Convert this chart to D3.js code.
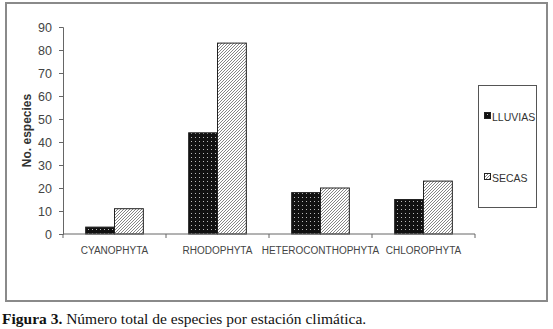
<!DOCTYPE html>
<html>
<head>
<meta charset="utf-8">
<script src="https://cdn.jsdelivr.net/npm/d3@7"></script>
<style>
  body { margin: 0; background: #fff; }
  svg { display: block; }
</style>
</head>
<body>
<div id="chart"></div>
<script>
// Data.
const categories = ["CYANOPHYTA", "RHODOPHYTA", "HETEROCONTHOPHYTA", "CHLOROPHYTA"];
const series = ["LLUVIAS", "SECAS"];
const lluvias = [3, 44, 18, 15];
const secas = [11, 83, 20, 23];
const yTicks = [0, 10, 20, 30, 40, 50, 60, 70, 80, 90];

const width = 553, height = 329;
const plot = { left: 63, right: 475, top: 27, bottom: 234 };

const svg = d3.select("#chart").append("svg")
  .attr("width", width)
  .attr("height", height);

// Patterns: black with white dots, white with grey diagonal hatch.
const defs = svg.append("defs");
const dots = defs.append("pattern")
  .attr("id", "dots")
  .attr("patternUnits", "userSpaceOnUse")
  .attr("width", 4).attr("height", 4);
dots.append("rect").attr("width", 4).attr("height", 4).attr("fill", "#111");
dots.append("rect").attr("x", 1).attr("y", 1).attr("width", 1).attr("height", 1).attr("fill", "#bbb");

const hatch = defs.append("pattern")
  .attr("id", "hatch")
  .attr("patternUnits", "userSpaceOnUse")
  .attr("width", 3).attr("height", 3);
hatch.append("rect").attr("width", 3).attr("height", 3).attr("fill", "#fff");
hatch.append("path")
  .attr("d", "M-1,1 l2,-2 M0,3 l3,-3 M2,4 l2,-2")
  .attr("stroke", "#777")
  .attr("stroke-width", 0.9);

const fills = { LLUVIAS: "url(#dots)", SECAS: "url(#hatch)" };

// Outer frame.
svg.append("rect")
  .attr("x", 6).attr("y", 3)
  .attr("width", 541).attr("height", 298)
  .attr("fill", "none")
  .attr("stroke", "#8a8a8a")
  .attr("stroke-width", 2);

const x = d3.scaleBand()
  .domain(categories)
  .range([plot.left, plot.right]);

const groupW = x.bandwidth() * 0.56;
const x1 = d3.scaleBand()
  .domain(series)
  .range([(x.bandwidth() - groupW) / 2, (x.bandwidth() + groupW) / 2]);

const y = d3.scaleLinear()
  .domain([0, 90])
  .range([plot.bottom, plot.top]);

const rows = categories.map((c, i) => ({ cat: c, LLUVIAS: lluvias[i], SECAS: secas[i] }));

// Bars.
const groups = svg.append("g").selectAll("g")
  .data(rows)
  .join("g")
  .attr("transform", d => `translate(${x(d.cat)},0)`);

groups.selectAll("rect")
  .data(d => series.map(s => ({ s, v: d[s] })))
  .join("rect")
  .attr("x", d => x1(d.s))
  .attr("width", x1.bandwidth())
  .attr("y", d => y(d.v))
  .attr("height", d => y(0) - y(d.v))
  .attr("fill", d => fills[d.s])
  .attr("stroke", "#222")
  .attr("stroke-width", 1);

// Y axis.
const yAxis = svg.append("g")
  .attr("transform", `translate(${plot.left},0)`)
  .call(d3.axisLeft(y).tickValues(yTicks).tickSize(4).tickPadding(7));
yAxis.select(".domain").attr("stroke", "#666");
yAxis.selectAll(".tick line").attr("stroke", "#666");
yAxis.selectAll("text")
  .attr("font-family", "Liberation Sans, Arial, sans-serif")
  .attr("font-size", 12.5)
  .attr("fill", "#444");

// X axis: ticks at band edges.
const xAxis = svg.append("g")
  .attr("transform", `translate(0,${plot.bottom})`);
xAxis.append("line")
  .attr("x1", plot.left).attr("x2", plot.right)
  .attr("stroke", "#666");
const edges = categories.map(c => x(c)).concat([x(categories[categories.length - 1]) + x.bandwidth()]);
xAxis.selectAll(".edge")
  .data(edges)
  .join("line")
  .attr("x1", d => d).attr("x2", d => d)
  .attr("y1", 0).attr("y2", 4)
  .attr("stroke", "#666");
xAxis.selectAll(".cat")
  .data(categories)
  .join("text")
  .attr("x", d => x(d) + x.bandwidth() / 2)
  .attr("y", 20)
  .attr("text-anchor", "middle")
  .attr("font-family", "Liberation Sans, Arial, sans-serif")
  .attr("font-size", 10)
  .attr("fill", "#444")
  .text(d => d);

// Y axis title.
svg.append("text")
  .attr("transform", `translate(31,${(plot.top + plot.bottom) / 2}) rotate(-90)`)
  .attr("text-anchor", "middle")
  .attr("font-family", "Liberation Sans, Arial, sans-serif")
  .attr("font-size", 12)
  .attr("font-weight", "bold")
  .attr("fill", "#333")
  .text("No. especies");

// Legend.
const legend = svg.append("g").attr("transform", "translate(478,85)");
legend.append("rect")
  .attr("x", 0.5).attr("y", 0.5)
  .attr("width", 58).attr("height", 122)
  .attr("fill", "#fff")
  .attr("stroke", "#555");
const ly = d3.scalePoint().domain(series).range([32, 93]);
series.forEach(s => {
  legend.append("rect")
    .attr("x", 6.5).attr("y", ly(s) - 4.5)
    .attr("width", 6).attr("height", 6)
    .attr("fill", fills[s])
    .attr("stroke", "#222");
  legend.append("text")
    .attr("x", 14).attr("y", ly(s))
    .attr("dy", "0.35em")
    .attr("font-family", "Liberation Sans, Arial, sans-serif")
    .attr("font-size", 10.5)
    .attr("fill", "#333")
    .text(s);
});

// Caption.
const cap = svg.append("text")
  .attr("x", 2).attr("y", 324)
  .attr("font-family", "Liberation Serif, Times New Roman, serif")
  .attr("font-size", 15.5)
  .attr("fill", "#111");
cap.append("tspan").attr("font-weight", "bold").text("Figura 3.");
cap.append("tspan").text(" Número total de especies por estación climática.");
</script>
</body>
</html>
